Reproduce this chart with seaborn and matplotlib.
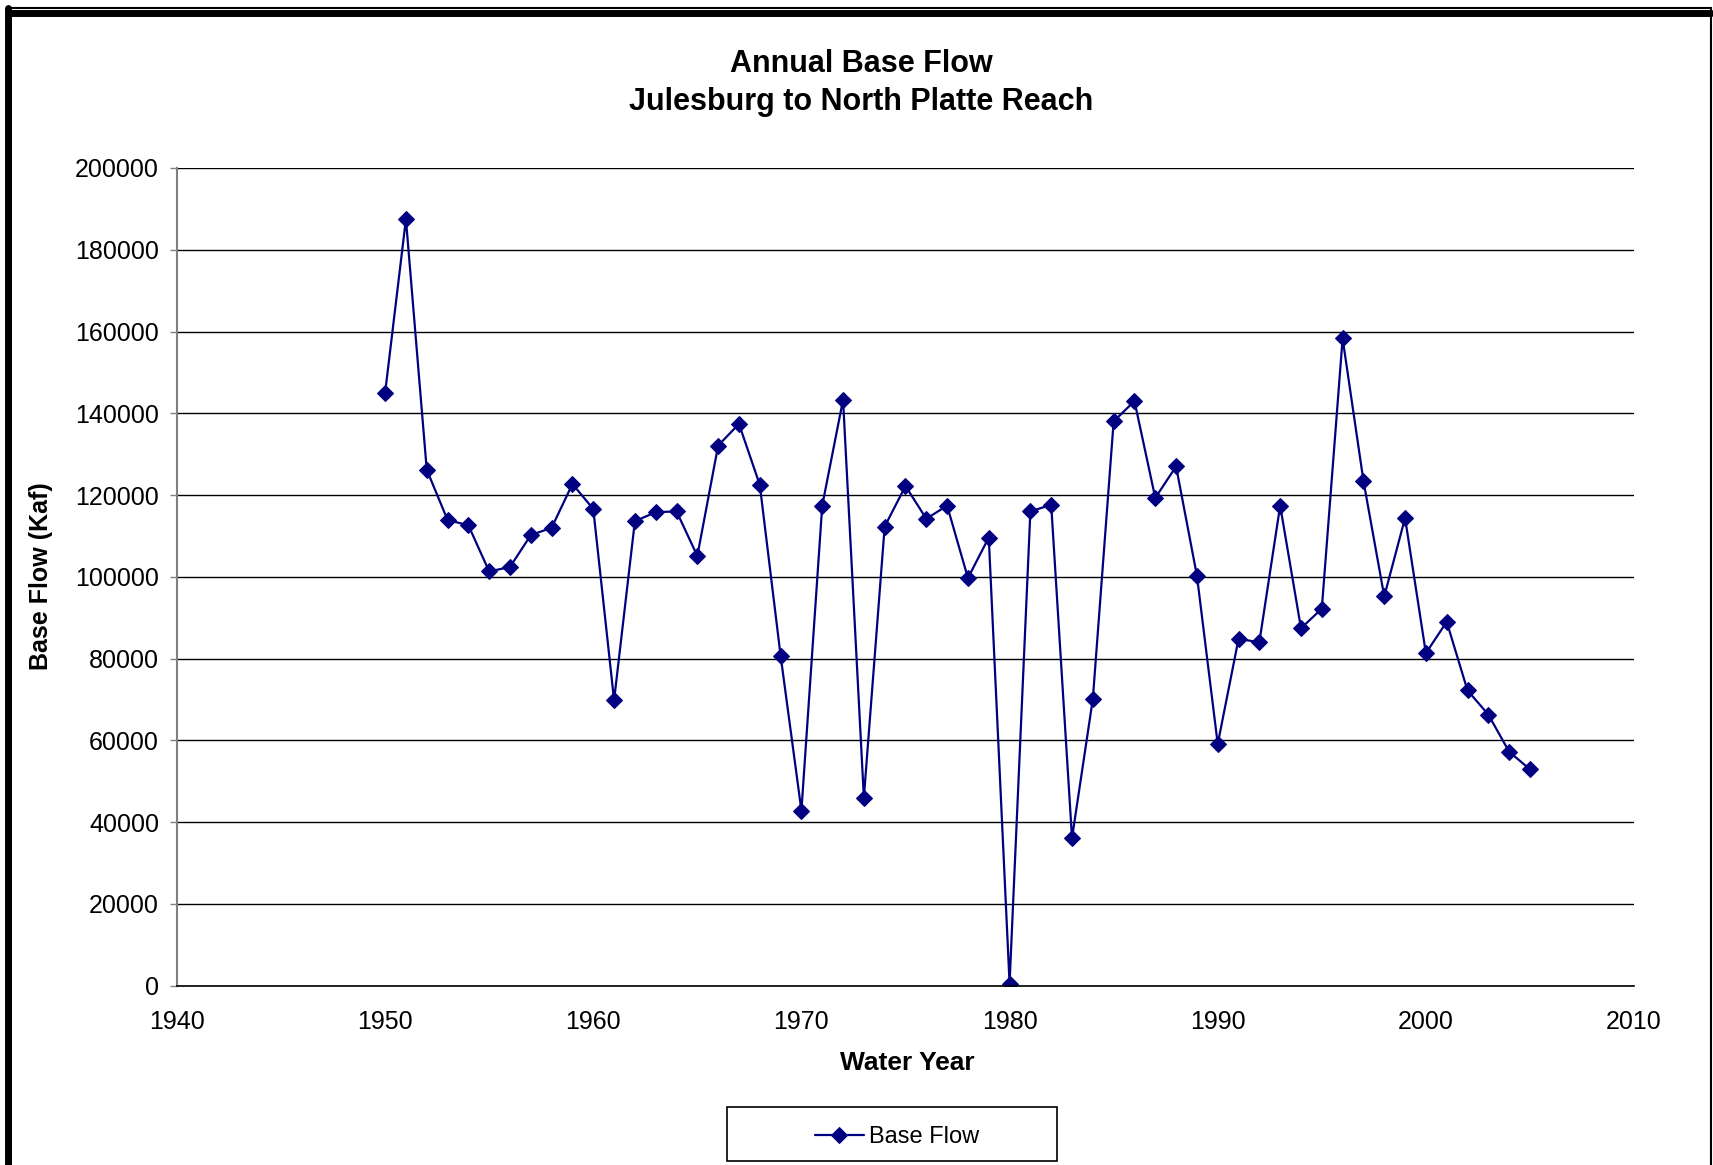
import matplotlib.pyplot as plt
import seaborn as sns
import pandas as pd
import numpy as np
from matplotlib.ticker import MultipleLocator
from matplotlib.patches import Rectangle

years = list(range(1950, 2006))
base_flow = [
    145000, 187500, 126200, 113900, 112600, 101300, 102400, 110200, 112000, 122700,
    116600, 69800, 113600, 115800, 116000, 105100, 132100, 137400, 122500, 80700,
    42800, 117400, 143300, 46000, 112300, 122200, 114200, 117400, 99700, 109600,
    500, 116000, 117600, 36100, 70100, 138000, 143000, 119300, 127000, 100300,
    59100, 84800, 84000, 117400, 87400, 92200, 158300, 123500, 95200, 114400,
    81300, 89000, 72200, 66300, 57200, 52900,
]
title_lines = ["Annual Base Flow", "Julesburg to North Platte Reach"]

df = pd.DataFrame({"Water Year": years, "Base Flow": base_flow})

sns.set_style("white")
plt.rcParams['font.family'] = ['Liberation Sans', 'DejaVu Sans']
plt.rcParams['text.color'] = 'black'
plt.rcParams['axes.labelcolor'] = 'black'
plt.rcParams['xtick.labelcolor'] = 'black'
plt.rcParams['ytick.labelcolor'] = 'black'

fig = plt.figure(figsize=(17.13, 11.65), dpi=100)
ax = fig.add_axes([0.1033, 0.154, 0.8506, 0.7018])

sns.lineplot(data=df, x="Water Year", y="Base Flow", ax=ax, color="#000080",
             marker="D", markersize=8.5, linewidth=1.6, markeredgecolor="#000080",
             label="Base Flow", legend=False)

ax.set_xlim(1940, 2010)
ax.set_ylim(0, 200000)
ax.xaxis.set_major_locator(MultipleLocator(10))
ax.xaxis.set_minor_locator(MultipleLocator(2))
ax.yaxis.set_major_locator(MultipleLocator(20000))
ax.grid(axis="y", color="black", linewidth=1)
ax.grid(axis="x", visible=False)
for side in ["top", "right"]:
    ax.spines[side].set_visible(False)
ax.spines["left"].set_color("#808080")
ax.spines["left"].set_linewidth(1.5)
ax.spines["bottom"].set_color("black")
ax.spines["bottom"].set_linewidth(1.2)
ax.tick_params(axis="x", which="major", direction="inout", length=9.5, width=1.2,
               color="#606060", labelsize=18, pad=13)
ax.tick_params(axis="x", which="minor", direction="in", length=4.5, width=1, color="#404040")
ax.tick_params(axis="y", which="major", direction="out", length=5, width=1,
               color="#808080", labelsize=18, pad=8, left=True)
ax.set_xlabel("Water Year", fontsize=19, fontweight="bold")
ax.set_ylabel("Base Flow (Kaf)", fontsize=18, fontweight="bold")
ax.xaxis.set_label_coords(0.501, -0.0948)
ax.yaxis.set_label_coords(-0.093, 0.501)
ax.xaxis.label.set_va("center")
ax.yaxis.label.set_va("center")

fig.text(0.5026, 0.9448, title_lines[0], ha="center", va="center", fontsize=22,
         fontweight="bold")
fig.text(0.5026, 0.9122, title_lines[1], ha="center", va="center", fontsize=22,
         fontweight="bold")

# legend box, drawn wide like the original
fig.add_artist(Rectangle((0.4244, 0.0034), 0.1927, 0.0464, transform=fig.transFigure,
                         fill=False, edgecolor="black", linewidth=1.2))
handles, labels = ax.get_lines()[:1], ["Base Flow"]
leg = fig.legend(handles, labels, loc="center", bbox_to_anchor=(0.5235, 0.0238),
                 fontsize=17, frameon=False, handlelength=2.1, handletextpad=0.2)

# outer chart border: thick left/top, thin right
fig.add_artist(Rectangle((0.0045, -0.05), 0.9945, 1.0430, transform=fig.transFigure,
                         fill=False, edgecolor="black", linewidth=1.5))
fig.add_artist(plt.Line2D([0.0045, 0.0045], [-0.05, 0.993], transform=fig.transFigure,
                          color="black", linewidth=5))
fig.add_artist(plt.Line2D([0.0045, 0.999], [0.9885, 0.9885], transform=fig.transFigure,
                          color="black", linewidth=5))

fig.savefig("out.png", dpi=100)
plt.close()
